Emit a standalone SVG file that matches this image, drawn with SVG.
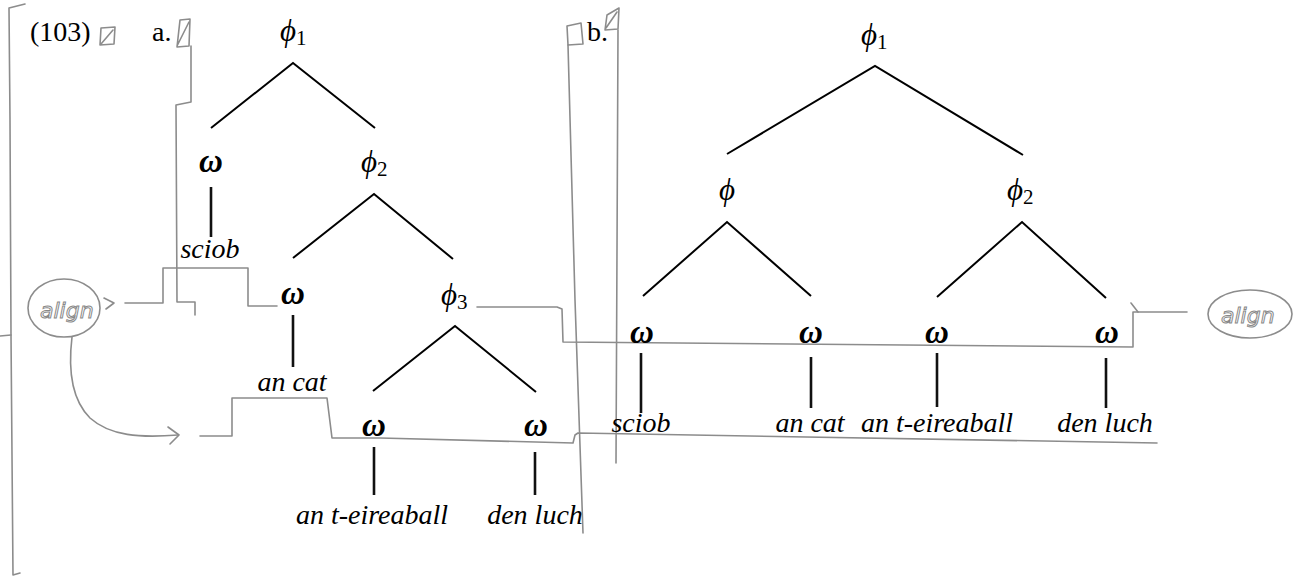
<svg xmlns="http://www.w3.org/2000/svg" width="1294" height="577" viewBox="0 0 1294 577">
<style>
text{font-family:"Liberation Serif","DejaVu Serif",serif;fill:#000}
.lab{font-size:28px}
.phi{font-size:31px;font-style:italic}
.sub{font-size:21px;font-style:normal}
.om{font-size:33px;font-style:italic;font-weight:bold;text-anchor:middle}
.wd{font-size:28px;font-style:italic;text-anchor:middle}
.br{stroke:#000;stroke-width:2;fill:none}
.st{stroke:#111;stroke-width:2.6;fill:none}
.pen{stroke:#8c8c8c;stroke-width:1.6;fill:none;stroke-linejoin:round;stroke-linecap:round}
.hand{font-family:"DejaVu Sans",sans-serif;font-style:italic;font-size:22px;fill:none;stroke:#888;stroke-width:1}
</style>
<rect width="1294" height="577" fill="#fff"/>

<!-- pencil annotations -->
<g id="annotations">
  <path class="pen" d="M25,4 L9,8 L10,120 L11,335 L13,575 L20,573"/>
  <path class="pen" d="M0,336 L11,335"/>
  <path class="pen" d="M101,28 L115,27 L114,44 L100,45 Z M101,44 L113,30"/>
  <path class="pen" d="M180,20 L190,19 L189,46 L177,47 Z M177,46 L189,22"/>
  <path class="pen" d="M191,46 L191,102 L176,105 L177,302 L195,302 L195,315"/>
  <path class="pen" d="M125,303 H163 V268 H248 V306 H277"/>
  <ellipse class="pen" cx="64" cy="308" rx="36" ry="29"/>
  <text class="hand" x="40" y="318">align</text>
  <path class="pen" d="M104,298 L114,303 L106,309"/>
  <path class="pen" d="M72,337 C68,370 72,400 90,418 C110,436 140,438 178,435"/>
  <path class="pen" d="M168,427 L179,435 L170,444"/>
  <path class="pen" d="M200,436 H232 V398 H327 L332,438 H380 L573,443 L575,435 L578,433 L1157,443"/>
  <path class="pen" d="M477,307 H557 L562,309 L563,342 L1133,347 V312 H1187"/>
  <path class="pen" d="M1131,303 L1138,312"/>
  <ellipse class="pen" cx="1250" cy="314" rx="42" ry="24"/>
  <text class="hand" x="1221" y="323">align</text>
  <path class="pen" d="M567,26 L581,23 L583,44 L568,45 Z"/>
  <path class="pen" d="M607,15 L619,8 L618,29 L605,30 Z M606,28 L617,12"/>
  <path class="pen" d="M568,45 L575,300 L583,533"/>
  <path class="pen" d="M618,30 L617,250 L616,463"/>
</g>

<!-- connectors -->
<g id="connectors">
  <path class="br" d="M211,128 L293,63 L375,128"/>
  <path class="br" d="M293,258 L374,194 L453,259"/>
  <path class="br" d="M373,391 L455,326 L536,392"/>
  <path class="st" d="M211,187 V237 M293,315 V367 M374,447 V495 M535,452 V495"/>
  <path class="br" d="M727,154 L875,66 L1023,155"/>
  <path class="br" d="M643,296 L727,222 L811,296"/>
  <path class="br" d="M937,297 L1022,222 L1106,298"/>
  <path class="st" d="M641,353 V413 M811,357 V408 M937,353 V407 M1106,358 V408"/>
</g>

<!-- labels -->
<g id="example-number"><text class="lab" x="30" y="41">(103)</text></g>
<g id="label-a"><text class="lab" x="152" y="41">a.</text></g>
<g id="label-b"><text class="lab" x="587" y="41">b.</text></g>

<!-- tree a -->
<g id="a-phi1"><text class="phi" x="280" y="41">ϕ<tspan class="sub" dy="4">1</tspan></text></g>
<g id="a-omega1"><text class="om" x="211" y="172">ω</text></g>
<g id="a-sciob"><text class="wd" x="210" y="258">sciob</text></g>
<g id="a-phi2"><text class="phi" x="361" y="172">ϕ<tspan class="sub" dy="4">2</tspan></text></g>
<g id="a-omega2"><text class="om" x="293" y="304">ω</text></g>
<g id="a-ancat"><text class="wd" x="292" y="391">an cat</text></g>
<g id="a-phi3"><text class="phi" x="441" y="305">ϕ<tspan class="sub" dy="4">3</tspan></text></g>
<g id="a-omega3"><text class="om" x="374" y="436">ω</text></g>
<g id="a-omega4"><text class="om" x="536" y="436">ω</text></g>
<g id="a-eireaball"><text class="wd" x="372" y="524">an t-eireaball</text></g>
<g id="a-denluch"><text class="wd" x="535" y="524">den luch</text></g>

<!-- tree b -->
<g id="b-phi1"><text class="phi" x="861" y="45">ϕ<tspan class="sub" dy="4">1</tspan></text></g>
<g id="b-phi"><text class="phi" x="719" y="200">ϕ</text></g>
<g id="b-phi2"><text class="phi" x="1007" y="200">ϕ<tspan class="sub" dy="4">2</tspan></text></g>
<g id="b-omega1"><text class="om" x="642" y="343">ω</text></g>
<g id="b-omega2"><text class="om" x="811" y="343">ω</text></g>
<g id="b-omega3"><text class="om" x="937" y="343">ω</text></g>
<g id="b-omega4"><text class="om" x="1107" y="343">ω</text></g>
<g id="b-sciob"><text class="wd" x="641" y="432">sciob</text></g>
<g id="b-ancat"><text class="wd" x="810" y="432">an cat</text></g>
<g id="b-eireaball"><text class="wd" x="937" y="432">an t-eireaball</text></g>
<g id="b-denluch"><text class="wd" x="1105" y="432">den luch</text></g>
</svg>
